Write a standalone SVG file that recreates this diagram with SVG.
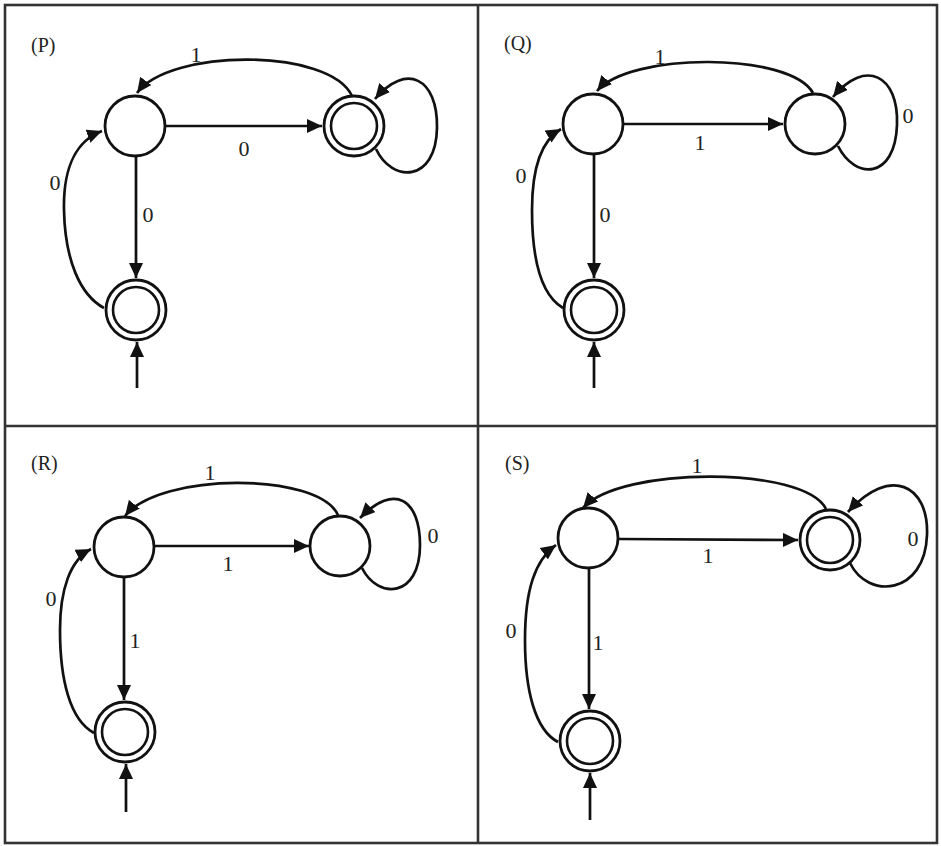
<svg xmlns="http://www.w3.org/2000/svg" width="941" height="846" viewBox="0 0 941 846">
<style>
.st{fill:#fff;stroke:#111;stroke-width:2.8}
.in{fill:none;stroke:#111;stroke-width:2.6}
.e{fill:none;stroke:#111;stroke-width:2.7}
.a{marker-end:url(#arr)}
.lb{font-family:"Liberation Serif","DejaVu Serif",serif;font-size:22px;fill:#222;text-anchor:middle}
.tt{font-family:"Liberation Serif","DejaVu Serif",serif;font-size:20px;fill:#222}
.fr{fill:none;stroke:#333;stroke-width:2.6}
</style>
<defs>
<marker id="arr" markerUnits="userSpaceOnUse" markerWidth="16" markerHeight="14" refX="15" refY="7" orient="auto">
<path d="M0,0 L15,7 L0,14 z" fill="#111"/>
</marker>
</defs>
<rect width="941" height="846" fill="#fff"/>
<g id="frame">
<rect class="fr" x="5" y="5" width="932" height="838"/>
<line class="fr" x1="478" y1="5" x2="478" y2="843"/>
<line class="fr" x1="5" y1="426" x2="937" y2="426"/>
</g>
<g id="titles">
<text class="tt" x="31" y="52">(P)</text>
<text class="tt" x="504" y="50">(Q)</text>
<text class="tt" x="31" y="470">(R)</text>
<text class="tt" x="505" y="470">(S)</text>
</g>
<g id="connectors">
<!-- P -->
<path class="e a" d="M166,126 L322,126"/>
<path class="e a" d="M352,96 C330,48 170,48 137,93"/>
<path class="e a" d="M376,149 C392,183 436,183 437,128 C438,78 406,62 375,99"/>
<path class="e a" d="M136,157 L136,278"/>
<path class="e a" d="M104,308 C80,295 65,260 64,210 C63,165 78,140 102,131"/>
<path class="e a" d="M137,388 L137,342"/>
<!-- Q -->
<path class="e a" d="M624,124 L783,124"/>
<path class="e a" d="M813,93 C790,52 630,52 597,91"/>
<path class="e a" d="M838,146 C855,180 895,180 897,125 C899,75 865,58 833,97"/>
<path class="e a" d="M594,155 L594,278"/>
<path class="e a" d="M563,308 C541,295 532,260 532,210 C532,165 542,140 561,129"/>
<path class="e a" d="M594,388 L594,342"/>
<!-- R -->
<path class="e a" d="M154,546 L309,546"/>
<path class="e a" d="M338,515 C318,472 160,472 125,516"/>
<path class="e a" d="M362,568 C378,600 420,598 420,545 C420,500 395,482 360,518"/>
<path class="e a" d="M124,578 L124,700"/>
<path class="e a" d="M94,733 C70,720 60,680 60,630 C60,590 70,560 91,549"/>
<path class="e a" d="M126,812 L126,764"/>
<!-- S -->
<path class="e a" d="M619,539 L798,540"/>
<path class="e a" d="M826,509 C805,466 620,466 583,508"/>
<path class="e a" d="M850,563 C868,600 925,595 927,535 C929,485 890,465 848,512"/>
<path class="e a" d="M589,569 L589,709"/>
<path class="e a" d="M558,742 C535,730 525,690 525,640 C525,590 535,560 556,545"/>
<path class="e a" d="M590,820 L590,773"/>
</g>
<g id="labels">
<text class="lb" x="196" y="62">1</text>
<text class="lb" x="244" y="156">0</text>
<text class="lb" x="148" y="222">0</text>
<text class="lb" x="55" y="190">0</text>
<text class="lb" x="660" y="64">1</text>
<text class="lb" x="700" y="150">1</text>
<text class="lb" x="908" y="123">0</text>
<text class="lb" x="521" y="183">0</text>
<text class="lb" x="605" y="222">0</text>
<text class="lb" x="210" y="480">1</text>
<text class="lb" x="228" y="571">1</text>
<text class="lb" x="433" y="543">0</text>
<text class="lb" x="51" y="606">0</text>
<text class="lb" x="135" y="648">1</text>
<text class="lb" x="697" y="473">1</text>
<text class="lb" x="708" y="563">1</text>
<text class="lb" x="913" y="546">0</text>
<text class="lb" x="511" y="638">0</text>
<text class="lb" x="598" y="650">1</text>
</g>
<g id="P-A"><circle class="st" cx="135" cy="126" r="30"/></g>
<g id="P-B"><circle class="st" cx="354" cy="126" r="30"/><circle class="in" cx="354" cy="126" r="23"/></g>
<g id="P-C"><circle class="st" cx="136" cy="310" r="30"/><circle class="in" cx="136" cy="310" r="23"/></g>
<g id="Q-A"><circle class="st" cx="593" cy="124" r="30"/></g>
<g id="Q-B"><circle class="st" cx="815" cy="124" r="30"/></g>
<g id="Q-C"><circle class="st" cx="594" cy="310" r="30"/><circle class="in" cx="594" cy="310" r="23"/></g>
<g id="R-A"><circle class="st" cx="124" cy="547" r="30"/></g>
<g id="R-B"><circle class="st" cx="340" cy="546" r="30"/></g>
<g id="R-C"><circle class="st" cx="125" cy="732" r="30"/><circle class="in" cx="125" cy="732" r="23"/></g>
<g id="S-A"><circle class="st" cx="588" cy="538" r="30"/></g>
<g id="S-B"><circle class="st" cx="830" cy="540" r="30"/><circle class="in" cx="830" cy="540" r="23"/></g>
<g id="S-C"><circle class="st" cx="590" cy="741" r="30"/><circle class="in" cx="590" cy="741" r="23"/></g>
</svg>
